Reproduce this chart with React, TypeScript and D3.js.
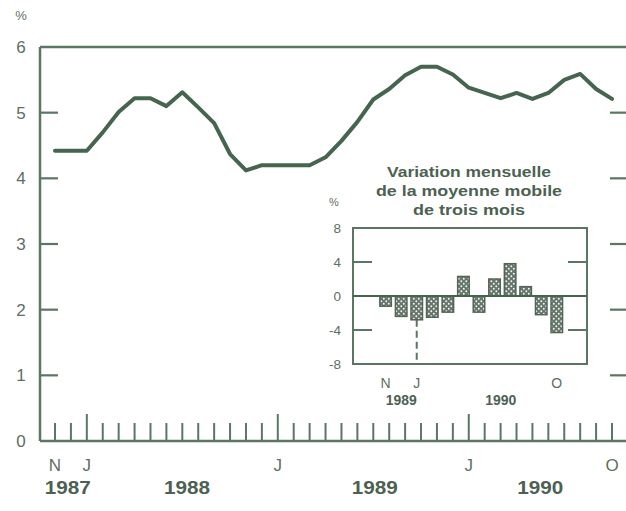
import React from 'react';
import * as d3 from 'd3';

// Monthly data, Nov 1987 .. Oct 1990 (%)
const months = [
  'N87','D87',
  'J88','F88','M88','A88','M88b','J88b','J88c','A88b','S88','O88','N88','D88',
  'J89','F89','M89','A89','M89b','J89b','J89c','A89b','S89','O89','N89','D89',
  'J90','F90','M90','A90','M90b','J90b','J90c','A90b','S90','O90'
];
const rate = [
  4.42, 4.42,
  4.42, 4.70, 5.01, 5.22, 5.22, 5.10, 5.31, 5.08, 4.84, 4.37, 4.12, 4.20,
  4.20, 4.20, 4.20, 4.32, 4.57, 4.86, 5.20, 5.36, 5.57, 5.70, 5.70, 5.58,
  5.38, 5.30, 5.22, 5.30, 5.21, 5.30, 5.50, 5.59, 5.36, 5.21
];
const mainYTicks = [0, 1, 2, 3, 4, 5, 6];
const mainInnerTicks = [1, 2, 3, 4, 5];
const monthLabels = [
  { m: 'N87', t: 'N' }, { m: 'J88', t: 'J' }, { m: 'J89', t: 'J' }, { m: 'J90', t: 'J' }, { m: 'O90', t: 'O' }
];
const januaries = ['J88', 'J89', 'J90'];
const yearLabels = ['1987', '1988', '1989', '1990'];
const yearAnchor = [0.8, 8.3, 20.1, 30.5];

// Inset: monthly change of three-month moving average, Nov 1989 .. Oct 1990
const insetMonths = ['N89','D89','J90','F90','M90','A90','M90b','J90b','J90c','A90b','S90','O90'];
const insetChange = [-1.2, -2.4, -2.8, -2.5, -1.9, 2.3, -1.9, 2.0, 3.8, 1.1, -2.2, -4.3];
const insetYTicks = [8, 4, 0, -4, -8];
const insetInnerTicks = [4, -4];
const insetMonthLabels = [{ m: 'N89', t: 'N' }, { m: 'J90', t: 'J' }, { m: 'O90', t: 'O' }];
const insetYearLabels = ['1989', '1990'];
const insetYearAnchor = [1, 7.4];
const insetTitle = ['Variation mensuelle', 'de la moyenne mobile', 'de trois mois'];

const FRAME = '#5b7662';
const LINE = '#46654f';
const TEXT = '#5d6e62';
const BOLD = '#4c6152';
const FONT = "'Liberation Sans', Arial, sans-serif";

export default function App() {
  const x = d3.scaleLinear().domain([0, months.length - 1]).range([55, 612]);
  const y = d3.scaleLinear().domain([0, 6]).range([441, 47]);
  const left = 40, right = 628, top = y(6), bottom = y(0);
  const line = d3.line<number>().x((_, i) => x(i)).y(d => y(d)).curve(d3.curveLinear);

  const ix = d3.scaleBand<string>().domain(insetMonths).range([375.8, 566.6]).padding(0.26);
  const iy = d3.scaleLinear().domain([-8, 8]).range([364, 228]);
  const iLeft = 353, iRight = 587;
  const ixc = (m: string) => (ix(m) as number) + ix.bandwidth() / 2;
  const ixi = (f: number) => ixc(insetMonths[0]) + f * ix.step();

  const jIdx = insetMonths.indexOf('J90');

  return (
    <svg width={626} height={511} style={{ position: 'absolute', left: 0, top: 0, background: '#fff' }} fontFamily={FONT}>
      <defs>
        <pattern id="dots" width={5} height={5} patternUnits="userSpaceOnUse">
          <rect width={5} height={5} fill="#66766b" />
          <circle cx={1.3} cy={1.3} r={0.95} fill="#f4f4f0" />
          <circle cx={3.8} cy={3.8} r={0.95} fill="#f4f4f0" />
        </pattern>
      </defs>

      {/* main frame */}
      <line x1={left} x2={right} y1={top} y2={top} stroke={FRAME} strokeWidth={2.5} />
      <line x1={left} x2={left} y1={top} y2={bottom} stroke={FRAME} strokeWidth={2.5} />
      <line x1={right} x2={right} y1={top} y2={bottom} stroke={FRAME} strokeWidth={2.5} />
      <line x1={left} x2={right} y1={bottom} y2={bottom} stroke={FRAME} strokeWidth={2.5} />

      {mainInnerTicks.map(v => (
        <g key={'yt' + v}>
          <line x1={left} x2={left + 18} y1={y(v)} y2={y(v)} stroke={FRAME} strokeWidth={2.2} />
          <line x1={right - 18} x2={right} y1={y(v)} y2={y(v)} stroke={FRAME} strokeWidth={2.2} />
        </g>
      ))}
      {mainYTicks.map(v => (
        <text key={'yl' + v} x={21} y={y(v)} dy="0.36em" textAnchor="middle" fontSize={17} fill={TEXT}>{v}</text>
      ))}
      <text x={21} y={20} textAnchor="middle" fontSize={13} fill={TEXT}>%</text>

      {months.map((m, i) => {
        const tall = januaries.includes(m);
        return (
          <line key={'xt' + i} x1={x(i)} x2={x(i)} y1={bottom} y2={bottom - (tall ? 27 : 18)} stroke={FRAME} strokeWidth={2} />
        );
      })}
      {monthLabels.map((l, k) => (
        <text key={'ml' + k} x={x(months.indexOf(l.m))} y={471} textAnchor="middle" fontSize={17} fill={TEXT}>{l.t}</text>
      ))}
      {yearLabels.map((t, k) => (
        <text key={'yr' + k} x={x(yearAnchor[k])} y={494} textAnchor="middle" fontSize={18} fontWeight="bold" fill={BOLD} textLength={46} lengthAdjust="spacingAndGlyphs">{t}</text>
      ))}

      <path d={line(rate) || ''} fill="none" stroke={LINE} strokeWidth={4} strokeLinejoin="round" strokeLinecap="round" />

      {/* inset */}
      {insetTitle.map((t, k) => (
        <text key={'it' + k} x={469} y={177 + k * 19} textAnchor="middle" fontSize={15.5} fontWeight="bold" fill={BOLD}
          textLength={[164, 186, 112][k]} lengthAdjust="spacingAndGlyphs">{t}</text>
      ))}
      <text x={334} y={206} textAnchor="middle" fontSize={11} fill={TEXT}>%</text>

      <rect x={iLeft} y={iy(8)} width={iRight - iLeft} height={iy(-8) - iy(8)} fill="#fff" stroke={FRAME} strokeWidth={2} />
      {insetInnerTicks.map(v => (
        <g key={'iyt' + v}>
          <line x1={iLeft} x2={iLeft + 19} y1={iy(v)} y2={iy(v)} stroke={FRAME} strokeWidth={2} />
          <line x1={iRight - 19} x2={iRight} y1={iy(v)} y2={iy(v)} stroke={FRAME} strokeWidth={2} />
        </g>
      ))}
      {insetYTicks.map(v => (
        <text key={'iyl' + v} x={341} y={iy(v)} dy="0.36em" textAnchor="end" fontSize={13.5} fill={TEXT}>{v}</text>
      ))}

      <line x1={ixc('J90')} x2={ixc('J90')} y1={iy(insetChange[jIdx])} y2={iy(-8)} stroke={FRAME} strokeWidth={2} strokeDasharray="7,4" />

      {insetChange.map((v, i) => (
        <rect key={'b' + i} x={ix(insetMonths[i])} y={iy(Math.max(0, v))} width={ix.bandwidth()}
          height={Math.abs(iy(v) - iy(0))} fill="url(#dots)" stroke="#536558" strokeWidth={1.5} />
      ))}
      <line x1={iLeft} x2={iRight} y1={iy(0)} y2={iy(0)} stroke={LINE} strokeWidth={2.2} />

      {insetMonthLabels.map((l, k) => (
        <text key={'iml' + k} x={ixc(l.m)} y={388} textAnchor="middle" fontSize={14} fill={TEXT}>{l.t}</text>
      ))}
      {insetYearLabels.map((t, k) => (
        <text key={'iyr' + k} x={ixi(insetYearAnchor[k])} y={405} textAnchor="middle" fontSize={14} fontWeight="bold" fill={BOLD} textLength={31} lengthAdjust="spacingAndGlyphs">{t}</text>
      ))}
    </svg>
  );
}
